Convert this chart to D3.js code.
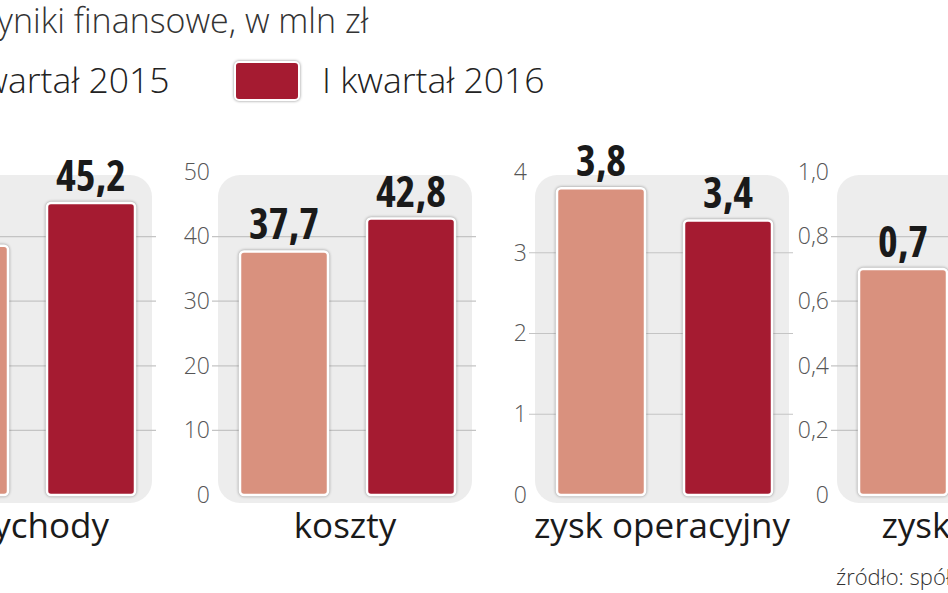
<!DOCTYPE html>
<html>
<head>
<meta charset="utf-8">
<script src="https://cdn.jsdelivr.net/npm/d3@7"></script>
<style>
  body { margin: 0; background: #fff; overflow: hidden; }
  text { font-family: "Open Sans", Roboto, sans-serif; }
</style>
</head>
<body>
<svg id="chart" width="948" height="593"></svg>
<script>
// dane
var categories = ['przychody', 'koszty', 'zysk operacyjny', 'zysk netto'];
var series = ['I kwartał 2015', 'I kwartał 2016'];
var values2015 = [38.6, 37.7, 3.8, 0.7];
var values2016 = [45.2, 42.8, 3.4, 0.8];
var axisMax = [50, 50, 4, 1.0];
var tickLabels = [
    ['0', '10', '20', '30', '40', '50'],
    ['0', '10', '20', '30', '40', '50'],
    ['0', '1', '2', '3', '4'],
    ['0', '0,2', '0,4', '0,6', '0,8', '1,0']
];
var colors = ['#d9917e', '#a51b31'];

var svg = d3.select('#chart');

// tytul i legenda (ucięte z lewej jak w oryginale)
svg.append('text').attr('x', -33).attr('y', 33).attr('font-size', 34).attr('font-weight', 300)
    .attr('fill', '#333').text('Wyniki finansowe, w mln zł');

var legendX = [-140, 235];
series.forEach(function(s, i) {
    svg.append('rect').attr('x', legendX[i]).attr('y', 62).attr('width', 64).attr('height', 38)
        .attr('rx', 4).attr('fill', colors[i]).attr('stroke', '#fff').attr('stroke-width', 2)
        .style('filter', 'drop-shadow(0 0 1.5px rgba(0,0,0,0.45))');
    svg.append('text').attr('x', legendX[i] + 87).attr('y', 93).attr('font-size', 35.5)
        .attr('font-weight', 300).attr('fill', '#222').text(s);
});

var boxLeft = [-102, 218, 535, 837];
var boxW = 254, yTop = 172, yZero = 495;

categories.forEach(function(cat, p) {
    var x0 = boxLeft[p];
    var y = d3.scaleLinear().domain([0, axisMax[p]]).range([yZero, yTop]);
    var x = d3.scaleBand().domain(series).range([x0 + 22, x0 + 237]).paddingInner(0.307).paddingOuter(0);
    var ticks = tickLabels[p].map(function(t) { return +t.replace(',', '.'); });

    var g = svg.append('g');
    g.append('rect').attr('x', x0).attr('y', 175).attr('width', boxW).attr('height', 328)
        .attr('rx', 22).attr('fill', '#ededed');

    // siatka
    g.selectAll('.grid').data(ticks.filter(function(t) { return t > 0 && t < axisMax[p]; }))
        .enter().append('line')
        .attr('x1', x0 - 6).attr('x2', x0 + boxW + 4)
        .attr('y1', function(d) { return y(d); }).attr('y2', function(d) { return y(d); })
        .attr('stroke', '#c4c4c4').attr('stroke-width', 1.2);

    // os
    var axis = d3.axisLeft(y).tickValues(ticks).tickSize(0).tickPadding(0)
        .tickFormat(function(d, i) { return tickLabels[p][i]; });
    var ag = g.append('g').attr('transform', 'translate(' + (x0 - 8) + ',0)').call(axis);
    ag.select('.domain').remove();
    ag.selectAll('text').attr('font-size', 23).attr('font-weight', 300).attr('fill', '#555')
        .attr('font-family', '"Open Sans", sans-serif');

    var vals = [values2015[p], values2016[p]];
    g.selectAll('.bar').data(vals).enter().append('rect')
        .attr('x', function(d, i) { return x(series[i]); })
        .attr('y', function(d) { return y(d); })
        .attr('width', x.bandwidth())
        .attr('height', function(d) { return yZero - y(d); })
        .attr('rx', 4)
        .attr('fill', function(d, i) { return colors[i]; })
        .attr('stroke', '#fff').attr('stroke-width', 2.5)
        .style('filter', 'drop-shadow(0 0 1.5px rgba(0,0,0,0.4))');

    g.selectAll('.val').data(vals).enter().append('text')
        .attr('x', function(d, i) { return x(series[i]) + x.bandwidth() / 2; })
        .attr('y', function(d) { return y(d) - 12; })
        .attr('text-anchor', 'middle').attr('font-size', 42).attr('font-weight', 'bold')
        .attr('font-family', '"DejaVu Sans", sans-serif').style('font-stretch', 'condensed')
        .attr('fill', '#1a1a1a')
        .text(function(d) { return d3.format('.1f')(d).replace('.', ','); });

    g.append('text').attr('x', x0 + boxW / 2).attr('y', 538).attr('text-anchor', 'middle')
        .attr('font-size', 35).attr('fill', '#1a1a1a').text(cat);
});

svg.append('text').attr('x', 836).attr('y', 585).attr('font-size', 22).attr('font-weight', 300)
    .attr('fill', '#333').text('źródło: spółka');
</script>
</body>
</html>
